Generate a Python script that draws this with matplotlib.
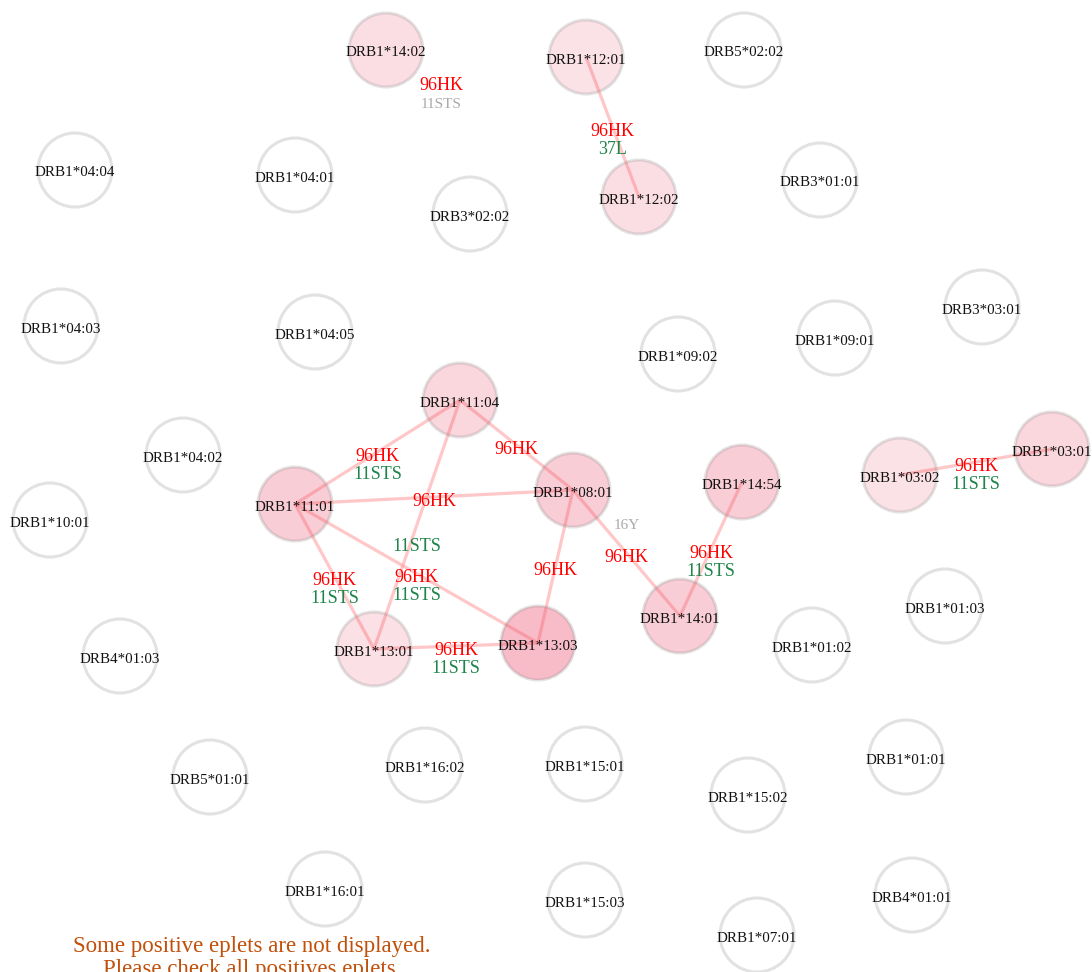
import matplotlib

matplotlib.use("Agg")
import matplotlib.pyplot as plt
from matplotlib.patches import Circle

plt.rcParams["font.family"] = ["Liberation Serif", "DejaVu Serif"]

# 노드: 이름, 위치(px), 채움 강도(0 = 빈 원)
node_names = [
    "DRB1*14:02", "DRB1*12:01", "DRB5*02:02", "DRB1*12:02", "DRB3*02:02",
    "DRB1*04:04", "DRB1*04:01", "DRB3*01:01", "DRB1*04:03", "DRB1*04:05",
    "DRB1*09:02", "DRB1*09:01", "DRB3*03:01", "DRB1*11:04", "DRB1*04:02",
    "DRB1*11:01", "DRB1*08:01", "DRB1*13:01", "DRB1*13:03", "DRB1*14:54",
    "DRB1*03:02", "DRB1*03:01", "DRB1*14:01", "DRB1*01:02", "DRB1*01:03",
    "DRB1*10:01", "DRB4*01:03", "DRB5*01:01", "DRB1*16:02", "DRB1*15:01",
    "DRB1*15:02", "DRB1*01:01", "DRB1*16:01", "DRB1*15:03", "DRB4*01:01",
    "DRB1*07:01",
]
node_x = [
    386, 586, 744, 639, 470,
    75, 295, 820, 61, 315,
    678, 835, 982, 460, 183,
    295, 573, 374, 538, 742,
    900, 1052, 680, 812, 945,
    50, 120, 210, 425, 585,
    748, 906, 325, 585, 912,
    757,
]
node_y = [
    50, 57, 50, 197, 214,
    170, 175, 180, 326, 332,
    354, 338, 307, 400, 455,
    504, 490, 649, 643, 482,
    475, 449, 616, 645, 606,
    520, 656, 777, 765, 764,
    795, 757, 889, 900, 895,
    935,
]
node_level = [
    0.19, 0.17, 0, 0.19, 0,
    0, 0, 0, 0, 0,
    0, 0, 0, 0.24, 0,
    0.29, 0.29, 0.18, 0.39, 0.29,
    0.17, 0.24, 0.29, 0, 0,
    0, 0, 0, 0, 0,
    0, 0, 0, 0, 0,
    0,
]

# 연결: 출발, 도착, 1행(빨강), 2행(초록)
edge_src = ["DRB1*12:01", "DRB1*11:04", "DRB1*11:04", "DRB1*11:04", "DRB1*11:01",
            "DRB1*11:01", "DRB1*11:01", "DRB1*08:01", "DRB1*08:01", "DRB1*13:01",
            "DRB1*14:54", "DRB1*03:02"]
edge_dst = ["DRB1*12:02", "DRB1*11:01", "DRB1*08:01", "DRB1*13:01", "DRB1*08:01",
            "DRB1*13:01", "DRB1*13:03", "DRB1*13:03", "DRB1*14:01", "DRB1*13:03",
            "DRB1*14:01", "DRB1*03:01"]
edge_top = ["96HK", "96HK", "96HK", "", "96HK",
            "96HK", "96HK", "96HK", "96HK", "96HK",
            "96HK", "96HK"]
edge_bottom = ["37L", "11STS", "", "11STS", "",
               "11STS", "11STS", "", "", "11STS",
               "11STS", "11STS"]

# 선 없이 떠 있는 라벨
float_text = ["96HK", "11STS", "16Y"]
float_x = [441, 441, 627]
float_y = [86, 104, 525]
float_color = ["#FF0000", "#AAAAAA", "#AAAAAA"]

NOTE = ["Some positive eplets are not displayed.", "Please check all positives eplets."]

RADIUS = 37
RED = "#FF0000"
GREEN = "#1E8449"

fig = plt.figure(figsize=(10.92, 9.72), dpi=100)
ax = fig.add_axes([0, 0, 1, 1])
ax.set_xlim(0, 1092)
ax.set_ylim(972, 0)
ax.set_aspect("equal")
ax.axis("off")

pos = {n: (x, y) for n, x, y in zip(node_names, node_x, node_y)}

# 연결선
for s, d in zip(edge_src, edge_dst):
    (x1, y1), (x2, y2) = pos[s], pos[d]
    ax.plot([x1, x2], [y1, y2], color="#FF9A9A", alpha=0.55, linewidth=2.3,
            solid_capstyle="butt", zorder=1)

# 노드
for n, x, y, lv in zip(node_names, node_x, node_y, node_level):
    if lv > 0:
        ax.add_patch(Circle((x, y), RADIUS, facecolor=(0.93, 0.33, 0.45, lv),
                            edgecolor="none", zorder=2))
    ax.add_patch(Circle((x, y), RADIUS, facecolor="none",
                        edgecolor=(0.55, 0.55, 0.55, 0.25), linewidth=2.2, zorder=3))
    ax.text(x, y + 3, n, ha="center", va="center", fontsize=10.8, color="#111111", zorder=4)

# 연결선 라벨 (중점)
for s, d, top, bot in zip(edge_src, edge_dst, edge_top, edge_bottom):
    (x1, y1), (x2, y2) = pos[s], pos[d]
    mx, my = (x1 + x2) / 2, (y1 + y2) / 2
    if top:
        ax.text(mx, my + 4, top, ha="center", va="center", fontsize=13, color=RED, zorder=5)
    if bot:
        ax.text(mx, my + 22, bot, ha="center", va="center", fontsize=13, color=GREEN, zorder=5)

for t, x, y, c in zip(float_text, float_x, float_y, float_color):
    ax.text(x, y, t, ha="center", va="center", fontsize=13 if t == "96HK" else 11,
            color=c, zorder=5)

ax.text(252, 946, NOTE[0], ha="center", va="center", fontsize=16.5, color="#C0500A")
ax.text(252, 969, NOTE[1], ha="center", va="center", fontsize=16.5, color="#C0500A")

fig.savefig("out.png", dpi=100)
